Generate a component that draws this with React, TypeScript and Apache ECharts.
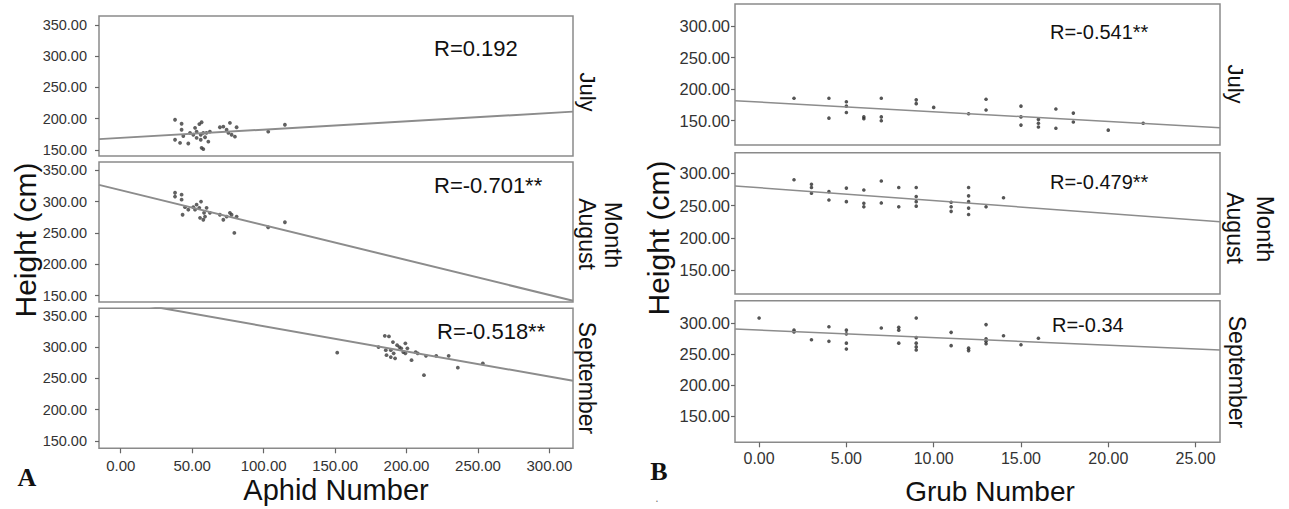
import React, { useEffect, useRef } from "react";
import * as echarts from "echarts";

// ---------- data ----------
const aphidTicks = [0, 50, 100, 150, 200, 250, 300];
const grubTicks = [0, 5, 10, 15, 20, 25];
const heightTicksA = [150, 200, 250, 300, 350];
const heightTicksB = [150, 200, 250, 300];

const aphidJuly: number[][] = [
  [38, 198], [42.6, 191.6], [42.6, 182], [43.8, 172], [38, 166], [41.5, 161], [47.3, 160],
  [50.8, 174], [52, 185], [53.1, 179], [55, 191], [56.6, 194], [56, 174], [57.8, 177],
  [56, 166], [56.6, 153], [57.8, 151], [59, 170], [60, 177], [61.3, 163], [62.4, 179],
  [53.1, 169], [48.5, 177], [69.4, 186], [71.8, 187], [74.1, 182], [76.4, 193], [75.3, 177],
  [77.6, 174], [79.9, 171], [81.1, 186], [103.2, 179], [114.9, 190],
];
const aphidAugust: number[][] = [
  [38, 314], [42.6, 311], [38, 308], [42.6, 303], [45, 291], [43.3, 279], [47.3, 287],
  [50.8, 291], [53.1, 295], [55, 290], [56.2, 300], [55.5, 274], [57.8, 271], [58.3, 282],
  [60.1, 290], [62.4, 282], [52, 287], [59, 276], [69.4, 279], [71.8, 271], [74.1, 276],
  [76.4, 282], [77.6, 279], [81.1, 276], [79.5, 250], [103.2, 259], [114.9, 267],
];
const aphidSeptember: number[][] = [
  [151.5, 291], [180.4, 300], [184.8, 318], [187.7, 317], [185.5, 295], [186, 287], [189, 284],
  [192, 282], [190.5, 308], [193.4, 303], [196.3, 298], [197.7, 292], [199.2, 306], [200.6, 298],
  [199.2, 290], [189, 295], [195, 300], [191, 290], [203.5, 279], [206.4, 292], [207.8, 290],
  [213.6, 286], [220.8, 286], [229.5, 286], [212.2, 255], [235.9, 267], [253.4, 274],
];
const grubJuly: number[][] = [
  [2, 185.5], [4, 185.5], [4, 154], [5, 180], [5, 173], [5, 163], [6, 156], [6, 153],
  [7, 185.5], [7, 156], [7, 150], [9, 183], [9, 177], [10, 171], [12, 161], [13, 184],
  [13, 167], [15, 173], [15, 156], [15, 143], [16, 152], [16, 146], [16, 140], [17, 168.5],
  [17, 138], [18, 162], [18, 148], [20, 135], [22, 146],
];
const grubAugust: number[][] = [
  [2, 290], [3, 283], [3, 278], [3, 269], [4, 271.5], [4, 258.6], [5, 277], [5, 256],
  [6, 274], [6, 253.5], [6, 248], [7, 288], [7, 254], [8, 278], [8, 248], [9, 278],
  [9, 264], [9, 256], [9, 249], [11, 255], [11, 248], [11, 241], [12, 278], [12, 265],
  [12, 256], [12, 246], [12, 236], [13, 248], [14, 262],
];
const grubSeptember: number[][] = [
  [0, 308.5], [2, 289], [2, 286], [3, 273.5], [4, 294.5], [4, 271], [5, 289], [5, 283],
  [5, 268], [5, 258.5], [7, 292.4], [8, 293.5], [8, 289], [8, 268], [9, 308.5], [9, 277],
  [9, 268], [9, 262], [9, 257], [11, 285.5], [11, 264], [12, 260], [12, 256], [13, 298],
  [13, 275], [13, 271], [13, 267], [14, 280], [15, 265.5], [16, 276],
];

// fit lines (end points)
const aphidJulyFit = [[-15.2, 167], [316.5, 211]];
const aphidAugustFit = [[-15.2, 326.6], [316.5, 142]];
const aphidSeptemberFit = [[-15.2, 380], [316.5, 246]];
const grubJulyFit = [[-1.38, 181.7], [26.4, 138.9]];
const grubAugustFit = [[-1.38, 280.3], [26.4, 224.9]];
const grubSeptemberFit = [[-1.38, 290.8], [26.4, 257]];

const rLabelsA = ["R=0.192", "R=-0.701**", "R=-0.518**"];
const rLabelsB = ["R=-0.541**", "R=-0.479**", "R=-0.34"];
const months = ["July", "August", "September"];

const FONT = "'Liberation Sans', Arial, sans-serif";

export default function App() {
  const ref = useRef<HTMLDivElement>(null);
  useEffect(() => {
    if (!ref.current) return;
    const chart = echarts.init(ref.current, null, { renderer: "svg" });

    const panels = [
      { left: 99, top: 16, width: 474, height: 140, xr: [-15.2, 316.5], yr: [140, 364], bottom: false, A: true },
      { left: 99, top: 162, width: 474, height: 140, xr: [-15.2, 316.5], yr: [140, 363], bottom: false, A: true },
      { left: 99, top: 308.3, width: 474, height: 140, xr: [-15.2, 316.5], yr: [138, 362], bottom: true, A: true },
      { left: 735, top: 4, width: 485, height: 141, xr: [-1.38, 26.4], yr: [111.5, 334.8], bottom: false, A: false },
      { left: 735, top: 152.7, width: 485, height: 141.3, xr: [-1.38, 26.4], yr: [112.8, 331.9], bottom: false, A: false },
      { left: 735, top: 300.7, width: 485, height: 141.6, xr: [-1.38, 26.4], yr: [108.1, 336.5], bottom: true, A: false },
    ];
    const scatters = [aphidJuly, aphidAugust, aphidSeptember, grubJuly, grubAugust, grubSeptember];
    const fits = [aphidJulyFit, aphidAugustFit, aphidSeptemberFit, grubJulyFit, grubAugustFit, grubSeptemberFit];

    const grid = panels.map((p) => ({
      left: p.left, top: p.top, width: p.width, height: p.height,
      show: true, borderColor: "#8a8a8a", borderWidth: 1.5, backgroundColor: "transparent",
      containLabel: false,
    }));
    const xAxis = panels.map((p, i) => ({
      type: "value", gridIndex: i, min: p.xr[0], max: p.xr[1], position: "bottom",
      axisLine: { show: false, onZero: false },
      splitLine: { show: false },
      axisTick: {
        show: p.bottom, length: 5, lineStyle: { color: "#666", width: 1.2 },
        customValues: p.A ? aphidTicks : grubTicks,
      },
      axisLabel: {
        show: p.bottom, margin: p.A ? 10 : 8, color: "#333",
        fontSize: p.A ? 15 : 16, fontFamily: FONT,
        customValues: p.A ? aphidTicks : grubTicks,
        formatter: (v: number) => v.toFixed(2),
      },
    }));
    const yAxis = panels.map((p, i) => ({
      type: "value", gridIndex: i, min: p.yr[0], max: p.yr[1], position: "left",
      axisLine: { show: false, onZero: false },
      splitLine: { show: false },
      axisTick: {
        show: true, length: 4, lineStyle: { color: "#666", width: 1.2 },
        customValues: p.A ? heightTicksA : heightTicksB,
      },
      axisLabel: {
        margin: p.A ? 12 : 5, color: "#333", fontSize: p.A ? 14.5 : 16.5, fontFamily: FONT,
        customValues: p.A ? heightTicksA : heightTicksB,
        formatter: (v: number) => v.toFixed(2),
      },
    }));
    const series: any[] = [];
    panels.forEach((p, i) => {
      series.push({
        type: "line", xAxisIndex: i, yAxisIndex: i, data: fits[i], showSymbol: false,
        symbol: "none", clip: true, silent: true,
        lineStyle: { color: "#8c8c8c", width: p.A ? 2 : 1.5 },
      });
      series.push({
        type: "scatter", xAxisIndex: i, yAxisIndex: i, data: scatters[i],
        symbolSize: p.A ? 3.8 : 3.6, itemStyle: { color: p.A ? "#3a3a3a" : "#2a2a2a" },
      });
    });

    const txt = (text: string, x: number, y: number, size: number, opts: any = {}) => ({
      type: "text", x, y, rotation: opts.rotation || 0, silent: true,
      style: {
        text, fontSize: size, fontFamily: opts.family || FONT, fontWeight: opts.weight || "normal",
        fill: opts.fill || "#111", align: opts.align || "center", verticalAlign: "middle",
      },
    });

    const graphic: any[] = [
      txt(rLabelsA[0], 434, 48, 22, { align: "left" }),
      txt(rLabelsA[1], 434, 185, 22, { align: "left" }),
      txt(rLabelsA[2], 437, 331, 22, { align: "left" }),
      txt(rLabelsB[0], 1050, 32, 20, { align: "left" }),
      txt(rLabelsB[1], 1050, 182, 20, { align: "left" }),
      txt(rLabelsB[2], 1052, 325, 20, { align: "left" }),
      txt(months[0], 587, 92, 22, { rotation: -Math.PI / 2 }),
      txt(months[1], 587, 234, 23, { rotation: -Math.PI / 2 }),
      txt("Month", 613, 235, 24, { rotation: -Math.PI / 2 }),
      txt(months[2], 587, 378, 23, { rotation: -Math.PI / 2 }),
      txt(months[0], 1235, 84, 22, { rotation: -Math.PI / 2 }),
      txt(months[1], 1235, 228, 23, { rotation: -Math.PI / 2 }),
      txt("Month", 1265, 229, 24, { rotation: -Math.PI / 2 }),
      txt(months[2], 1237, 372, 23, { rotation: -Math.PI / 2 }),
      txt("Height (cm)", 25, 240, 30, { rotation: Math.PI / 2 }),
      txt("Height (cm)", 658, 238, 30, { rotation: Math.PI / 2 }),
      txt("Aphid Number", 336, 490, 29),
      txt("Grub Number", 990, 491, 28),
      txt("A", 27, 477, 26, { family: "'Liberation Serif', 'Times New Roman', serif", weight: "bold" }),
      txt("B", 659, 471, 26, { family: "'Liberation Serif', 'Times New Roman', serif", weight: "bold" }),
      txt(".", 657, 498, 12, { fill: "#777" }),
    ];

    chart.setOption({
      animation: false,
      backgroundColor: "#ffffff",
      grid, xAxis, yAxis, series, graphic,
    });
    return () => chart.dispose();
  }, []);
  return (
    <div
      ref={ref}
      style={{ position: "absolute", left: 0, top: 0, width: 1289, height: 509 }}
    />
  );
}
